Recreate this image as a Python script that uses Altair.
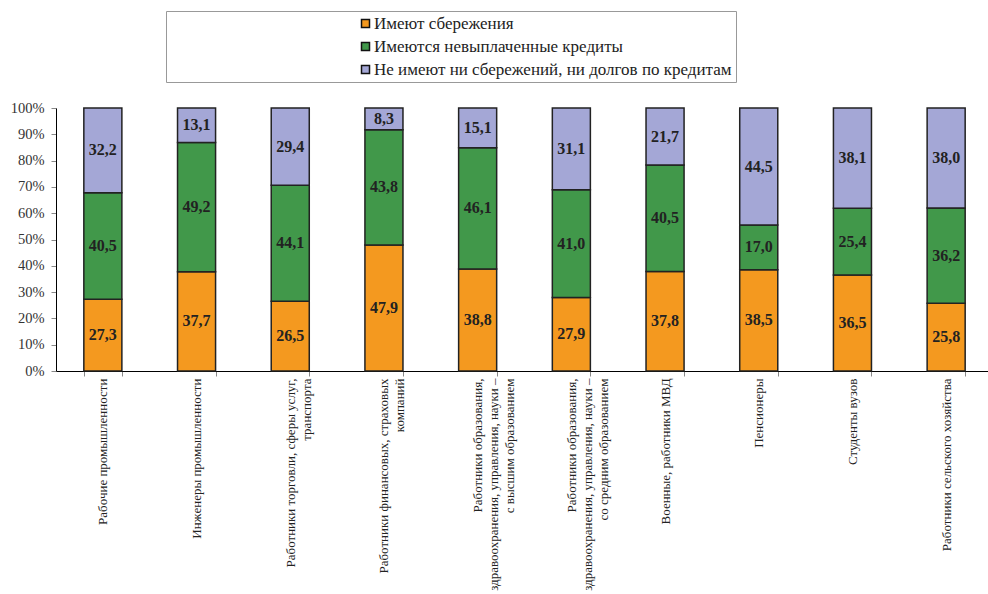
import altair as alt
import pandas as pd

# Occupational groups (line breaks inside a label are marked with "\n")
categories = [
    "Рабочие промышленности",
    "Инженеры промышленности",
    "Работники торговли, сферы услуг,\nтранспорта",
    "Работники финансовых, страховых\nкомпаний",
    "Работники образования,\nздравоохранения, управления, науки –\nс высшим образованием",
    "Работники образования,\nздравоохранения, управления, науки –\nсо средним образованием",
    "Военные, работники МВД",
    "Пенсионеры",
    "Студенты вузов",
    "Работники сельского хозяйства",
]

series = [
    "Имеют сбережения",
    "Имеются невыплаченные кредиты",
    "Не имеют ни сбережений, ни долгов по кредитам",
]
colors = ["#F4991F", "#41984A", "#A4A7D6"]

savings = [27.3, 37.7, 26.5, 47.9, 38.8, 27.9, 37.8, 38.5, 36.5, 25.8]
credits = [40.5, 49.2, 44.1, 43.8, 46.1, 41.0, 40.5, 17.0, 25.4, 36.2]
neither = [32.2, 13.1, 29.4, 8.3, 15.1, 31.1, 21.7, 44.5, 38.1, 38.0]

y_ticks = [0, 10, 20, 30, 40, 50, 60, 70, 80, 90, 100]

rows = []
for idx, (name, vals) in enumerate(zip(series, [savings, credits, neither])):
    for cat, v in zip(categories, vals):
        rows.append({"category": cat, "series": name, "idx": idx, "value": v})
df = pd.DataFrame(rows)

FONT = "Liberation Serif"

x_scale = alt.Scale(paddingInner=0.594, paddingOuter=0.297, range=[0, 937])
y_scale = alt.Scale(domain=[0, 100], nice=False)

x_axis = alt.Axis(
    labelAngle=270,
    labelAlign="right",
    labelBaseline="middle",
    labelExpr="split(datum.label, '\\n')",
    labelFont=FONT,
    labelFontSize=13,
    labelLineHeight=16,
    labelColor="#222222",
    labelLimit=400,
    labelOverlap=False,
    labelPadding=2,
    tickBand="extent",
    tickSize=5,
    tickColor="#888888",
    domainColor="#000000",
    domainWidth=1,
    grid=False,
)

y_axis = alt.Axis(
    values=y_ticks,
    labelExpr="datum.value + '%'",
    labelFont=FONT,
    labelFontSize=14.5,
    labelColor="#333333",
    labelPadding=7,
    labelOverlap=False,
    tickSize=5,
    tickColor="#888888",
    domainColor="#000000",
    grid=False,
)

base = alt.Chart(df).transform_stack(
    stack="value",
    groupby=["category"],
    as_=["v0", "v1"],
    sort=[alt.SortField("idx", order="ascending")],
)

bars = base.mark_bar(stroke="#222222", strokeWidth=1.5).encode(
    x=alt.X("category:N", sort=categories, title=None, scale=x_scale, axis=x_axis),
    y=alt.Y("v0:Q", title=None, scale=y_scale, axis=y_axis),
    y2="v1:Q",
    color=alt.Color(
        "series:N",
        sort=series,
        scale=alt.Scale(domain=series, range=colors),
        legend=alt.Legend(
            title=None,
            orient="none",
            legendX=110,
            legendY=-97,
            padding=4,
            symbolOffset=187,
            symbolType="square",
            symbolSize=64,
            symbolStrokeColor="#111111",
            symbolStrokeWidth=1.5,
            labelFont=FONT,
            labelFontSize=17,
            labelColor="#222222",
            labelOffset=0,
            labelLimit=500,
            rowPadding=5,
            strokeColor="#999999",
            fillColor="#FFFFFF",
        ),
    ),
)

# Segment values, centred inside each stacked piece
labels = base.transform_calculate(
    mid="(datum.v0 + datum.v1) / 2",
    txt="replace(format(datum.value, '.1f'), '.', ',')",
).mark_text(
    font=FONT, fontSize=16, fontWeight="bold", color="#222222", baseline="middle"
).encode(
    x=alt.X("category:N", sort=categories, title=None, scale=x_scale, axis=x_axis),
    y=alt.Y("mid:Q", title=None, scale=y_scale, axis=y_axis),
    text="txt:N",
)

chart = (
    alt.layer(bars, labels)
    .properties(
        width=932,
        height=263,
        autosize=alt.AutoSizeParams(type="none"),
        padding={"left": 56, "top": 108, "right": 0, "bottom": 223},
    )
    .configure(font=FONT)
    .configure_view(stroke=None)
)

chart.save("out.html", embed_options={"renderer": "svg", "actions": False})
